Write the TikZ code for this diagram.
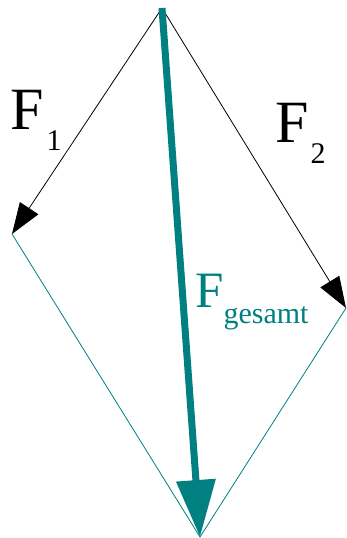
\documentclass[tikz,border=0pt]{standalone}
\usepackage{fontspec}
\setmainfont{Liberation Serif}
\usetikzlibrary{arrows.meta}
\definecolor{vecteal}{RGB}{0,128,128}

\begin{document}
\begin{tikzpicture}[x=1pt, y=-1pt,
        force/.style={draw=black, line width=0.8pt, -{Triangle[length=31pt, width=22pt]}},
        resultant/.style={draw=vecteal, line width=7pt, -{Triangle[length=57pt, width=38pt]}},
        helper/.style={draw=vecteal, line width=0.8pt},
        forcename/.style={anchor=base west, inner sep=0pt, font=\fontsize{60}{60}\selectfont},
      ]
      \useasboundingbox (0,0) rectangle (347,538);
      \coordinate (origin) at (162,8);
      \coordinate (tipone) at (12,234);
      \coordinate (tiptwo) at (346,308);
      \coordinate (tipsum) at (200,537);
      % parallelogram
      \draw[helper] (tipone) -- (tipsum) -- (tiptwo);
      \draw[force] (origin) -- (tipone);
      \draw[force] (origin) -- (tiptwo);
      \draw[resultant] (origin) -- (tipsum);
      % labels
      \node[forcename] (fone) at (10,129) {F\kern3pt\raisebox{-21pt}{\fontsize{30}{30}\selectfont 1}};
      \node[forcename] (ftwo) at (275,142) {F\kern2pt\raisebox{-21pt}{\fontsize{30}{30}\selectfont 2}};
      \node[forcename, text=vecteal, font=\fontsize{51}{51}\selectfont] (fsum) at (195,307) {F\raisebox{-16pt}{\fontsize{30}{30}\selectfont gesamt}};
      \end{tikzpicture}
\end{document}
